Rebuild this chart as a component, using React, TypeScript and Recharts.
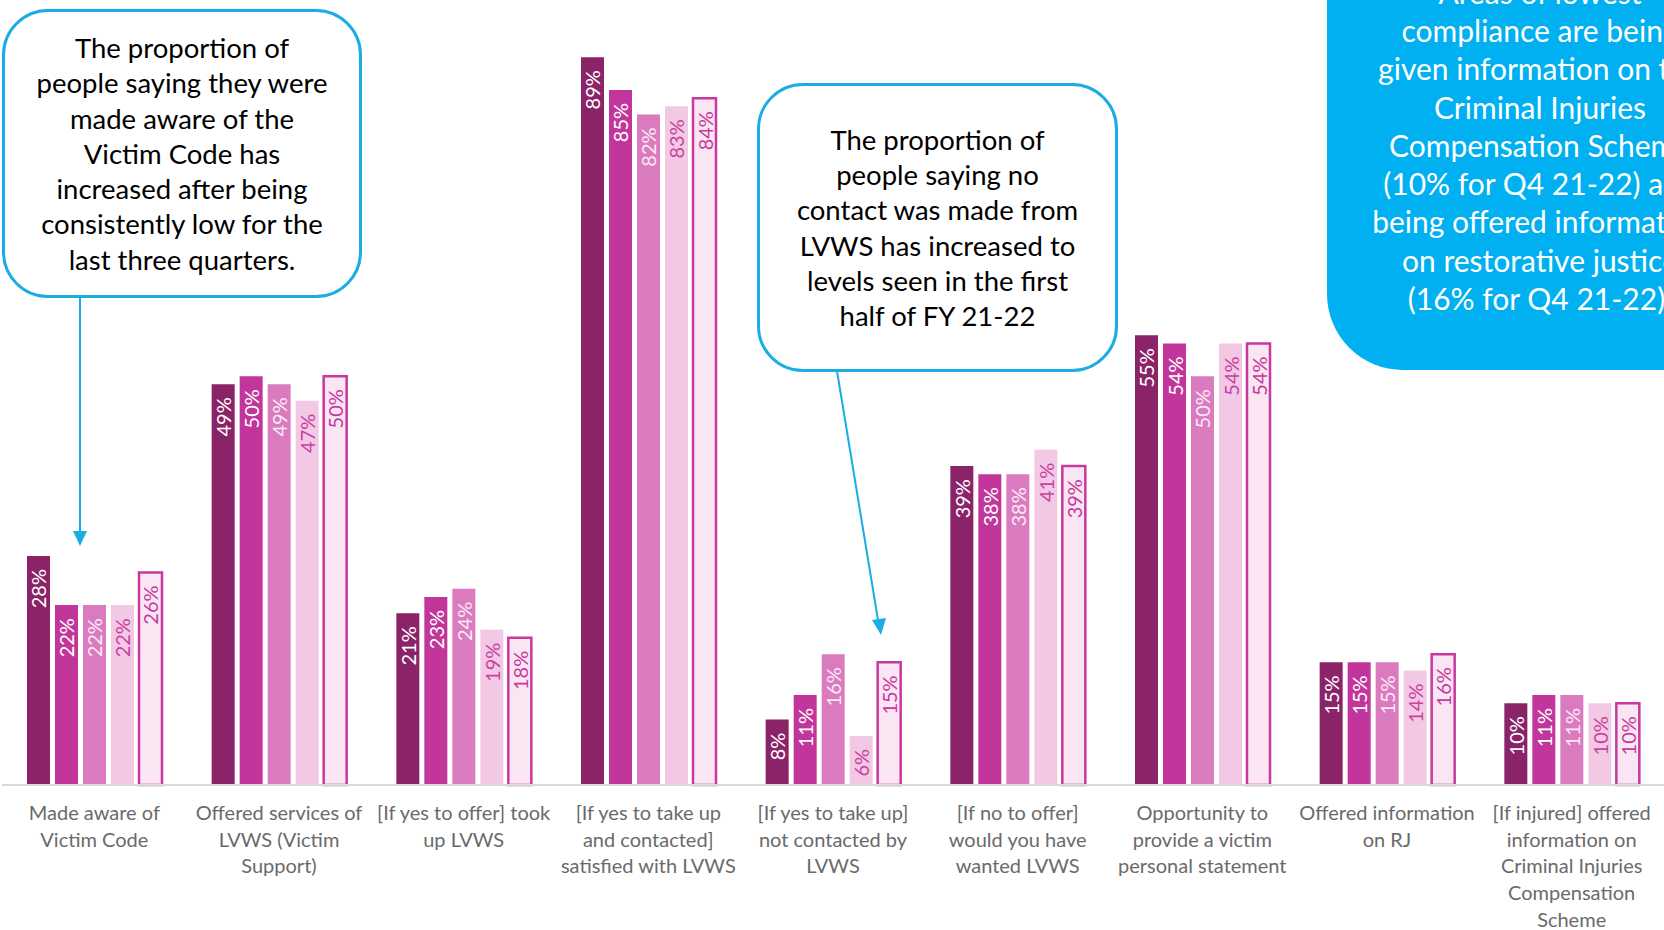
import React from 'react';
import { BarChart, Bar, XAxis, YAxis, LabelList } from 'recharts';

const categories = [
  'Made aware of\nVictim Code',
  'Offered services of\nLVWS (Victim\nSupport)',
  '[If yes to offer] took\nup LVWS',
  '[If yes to take up\nand contacted]\nsatisfied with LVWS',
  '[If yes to take up]\nnot contacted by\nLVWS',
  '[If no to offer]\nwould you have\nwanted LVWS',
  'Opportunity to\nprovide a victim\npersonal statement',
  'Offered information\non RJ',
  '[If injured] offered\ninformation on\nCriminal Injuries\nCompensation\nScheme',
];

const q4_2021 = [28, 49, 21, 89, 8, 39, 55, 15, 10];
const q1_2122 = [22, 50, 23, 85, 11, 38, 54, 15, 11];
const q2_2122 = [22, 49, 24, 82, 16, 38, 50, 15, 11];
const q3_2122 = [22, 47, 19, 83, 6, 41, 54, 14, 10];
const q4_2122 = [26, 50, 18, 84, 15, 39, 54, 16, 10];

const data = categories.map((name, i) => ({
  name,
  q4_2021: q4_2021[i],
  q1_2122: q1_2122[i],
  q2_2122: q2_2122[i],
  q3_2122: q3_2122[i],
  q4_2122: q4_2122[i],
}));

const FONT = 'Lato, "Open Sans", sans-serif';
const BLUE = '#1aade4';

const renderLabel = (color: string) => (props: any) => {
  const { x, y, width, value } = props;
  const cx = Number(x) + Number(width) / 2;
  const ty = Number(y) + 13;
  return (
    <text
      x={cx}
      y={ty}
      transform={`rotate(-90 ${cx} ${ty})`}
      textAnchor="end"
      dominantBaseline="central"
      fill={color}
      fontSize={20}
      fontFamily={FONT}
    >
      {value}%
    </text>
  );
};

const CategoryTick = (props: any) => {
  const { x, y, payload } = props;
  const lines = String(payload.value).split('\n');
  return (
    <text x={x} y={y} textAnchor="middle" fill="#6a6a6a" fontSize={20} fontFamily={FONT}>
      {lines.map((l, i) => (
        <tspan key={i} x={x} dy={i === 0 ? 35 : 26.7}>
          {l}
        </tspan>
      ))}
    </text>
  );
};

const boxText: React.CSSProperties = {
  position: 'absolute',
  boxSizing: 'border-box',
  display: 'flex',
  flexDirection: 'column',
  alignItems: 'center',
  justifyContent: 'center',
  textAlign: 'center',
  fontFamily: FONT,
  whiteSpace: 'nowrap',
};

const App: React.FC = () => {
  return (
    <div style={{ position: 'absolute', left: 0, top: 0, width: 1664, height: 930, overflow: 'hidden', background: '#fff' }}>
      <BarChart
        width={1664}
        height={930}
        data={data}
        margin={{ top: 0, right: 0, left: 2, bottom: 5 }}
        barCategoryGap={25}
        barGap={5}
      >
        <XAxis
          dataKey="name"
          interval={0}
          height={140}
          tickLine={false}
          tickSize={0}
          tickMargin={0}
          axisLine={{ stroke: '#d9d9d9', strokeWidth: 2 }}
          tick={<CategoryTick />}
        />
        <YAxis hide domain={[0, 96]} />
        <Bar dataKey="q4_2021" name="Q4 20-21" fill="#8b2369" isAnimationActive={false}>
          <LabelList dataKey="q4_2021" content={renderLabel('#ffffff')} />
        </Bar>
        <Bar dataKey="q1_2122" name="Q1 21-22" fill="#c2369b" isAnimationActive={false}>
          <LabelList dataKey="q1_2122" content={renderLabel('#ffffff')} />
        </Bar>
        <Bar dataKey="q2_2122" name="Q2 21-22" fill="#da7bc0" isAnimationActive={false}>
          <LabelList dataKey="q2_2122" content={renderLabel('#fbe9f5')} />
        </Bar>
        <Bar dataKey="q3_2122" name="Q3 21-22" fill="#f2c8e5" isAnimationActive={false}>
          <LabelList dataKey="q3_2122" content={renderLabel('#c8439f')} />
        </Bar>
        <Bar dataKey="q4_2122" name="Q4 21-22" fill="#f9e6f2" stroke="#c7399f" strokeWidth={2.5} isAnimationActive={false}>
          <LabelList dataKey="q4_2122" content={renderLabel('#c7399f')} />
        </Bar>
      </BarChart>

      <svg width={1664} height={930} style={{ position: 'absolute', left: 0, top: 0, pointerEvents: 'none' }}>
        <line x1={80} y1={298} x2={80} y2={532} stroke={BLUE} strokeWidth={2} />
        <polygon points="73,531 87,531 80,546" fill={BLUE} />
        <line x1={837} y1={371} x2={878} y2={620} stroke={BLUE} strokeWidth={2} />
        <polygon points="872,620 886,618 881,635" fill={BLUE} />
      </svg>

      <div
        style={{
          ...boxText,
          left: 2,
          top: 9,
          width: 360,
          height: 289,
          border: `3px solid ${BLUE}`,
          borderRadius: 46,
          background: '#fff',
          color: '#000',
          fontSize: 27.5,
          lineHeight: '35.2px',
        }}
      >
        <div>The proportion of</div>
        <div>people saying they were</div>
        <div>made aware of the</div>
        <div>Victim Code has</div>
        <div>increased after being</div>
        <div>consistently low for the</div>
        <div>last three quarters.</div>
      </div>

      <div
        style={{
          ...boxText,
          left: 757,
          top: 83,
          width: 361,
          height: 289,
          border: `3px solid ${BLUE}`,
          borderRadius: 46,
          background: '#fff',
          color: '#000',
          fontSize: 27.5,
          lineHeight: '35.3px',
        }}
      >
        <div>The proportion of</div>
        <div>people saying no</div>
        <div>contact was made from</div>
        <div>LVWS has increased to</div>
        <div>levels seen in the first</div>
        <div>half of FY 21-22</div>
      </div>

      <div
        style={{
          ...boxText,
          left: 1327,
          top: -80,
          width: 426,
          height: 450,
          borderRadius: '0 0 0 76px',
          background: '#00b0f0',
          color: '#fff',
          fontSize: 30,
          lineHeight: '38.3px',
        }}
      >
        <div>Areas of lowest</div>
        <div>compliance are being</div>
        <div>given information on the</div>
        <div>Criminal Injuries</div>
        <div>Compensation Scheme</div>
        <div>(10% for Q4 21-22) and</div>
        <div>being offered information</div>
        <div>on restorative justice</div>
        <div>(16% for Q4 21-22).</div>
      </div>
    </div>
  );
};

export default App;
